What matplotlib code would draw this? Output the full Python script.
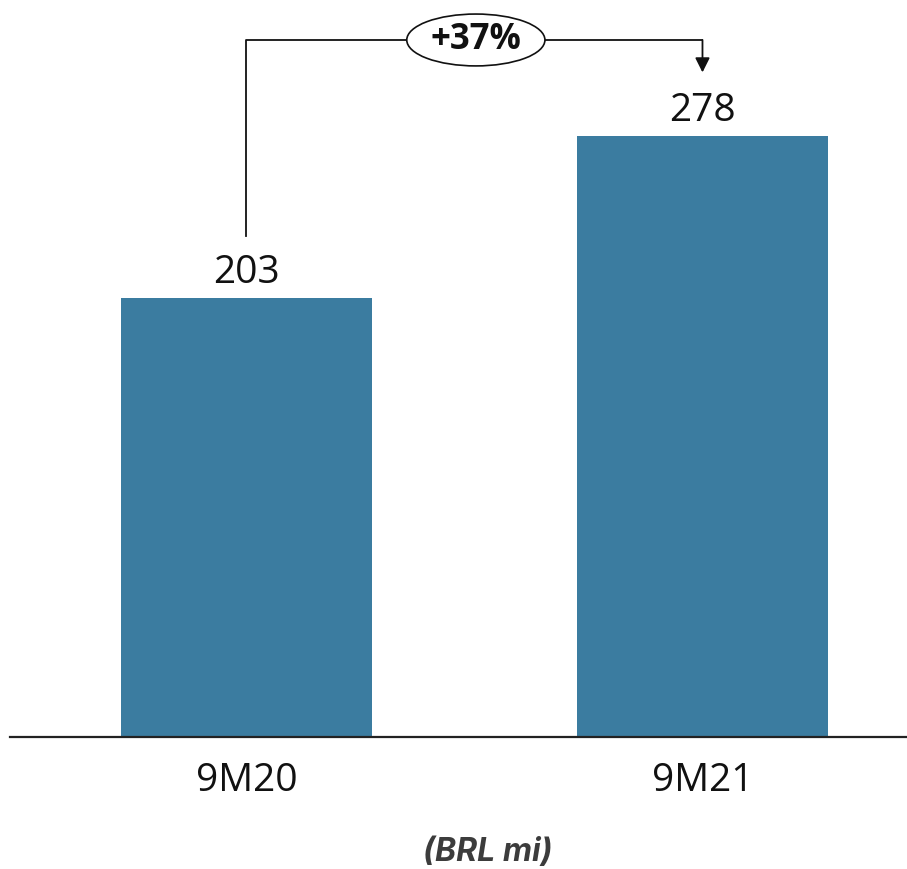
import matplotlib.pyplot as plt
from matplotlib.patches import Ellipse

# Data
categories = ["9M20", "9M21"]
values = [203, 278]
growth_label = "+37%"
unit_label = "(BRL mi)"

bar_color = "#3b7ca0"

fig = plt.figure(figsize=(9.07, 8.69), dpi=100)
ax = fig.add_axes([10 / 907, 132 / 869, 897 / 907, 737 / 869])

x = range(len(categories))
ax.bar(x, values, width=0.55, color=bar_color)

ax.set_xlim(-0.5186, 1.4485)
ax.set_ylim(0, 341)

# value labels above bars
for xi, v in zip(x, values):
    ax.annotate(str(v), (xi, v), xytext=(0, 11), textcoords="offset points",
                ha="center", va="baseline", fontsize=28, family="Open Sans",
                color="#111111")

# axes styling
for s in ["top", "right", "left"]:
    ax.spines[s].set_visible(False)
ax.spines["bottom"].set_linewidth(1.6)
ax.spines["bottom"].set_color("#222222")
ax.set_yticks([])
ax.set_xticks(list(x))
ax.set_xticklabels(categories, fontsize=28, family="Open Sans", color="#111111")
ax.tick_params(axis="x", length=0, pad=18)

# growth bracket: from first bar up, across, arrow down to second bar
y_line = 322.5
x_ell = 0.503
ell_w = 0.303
ax.plot([0, 0, x_ell - ell_w / 2], [values[0] + 29, y_line, y_line],
        color="#111111", lw=1.3, clip_on=False)
ax.plot([x_ell + ell_w / 2, 1], [y_line, y_line],
        color="#111111", lw=1.3, clip_on=False)
ax.annotate("", xy=(1, values[1] + 29.5), xytext=(1, y_line),
            arrowprops=dict(arrowstyle="-|>", color="#111111", lw=1.3,
                            mutation_scale=22, shrinkA=0, shrinkB=0),
            annotation_clip=False)
ax.add_patch(Ellipse((x_ell, y_line), ell_w, 24, facecolor="white",
                     edgecolor="#111111", lw=1.2, clip_on=False, zorder=3))
ax.text(x_ell, y_line, growth_label, ha="center", va="center", fontsize=25,
        fontweight="bold", family="Open Sans", color="#111111", zorder=4)

fig.text(488 / 907, 1 - 852 / 869, unit_label, ha="center", va="center",
         fontsize=23, fontweight="bold", fontstyle="italic", family="Inter",
         color="#3c3c3c")

fig.savefig("out.png", dpi=100)
